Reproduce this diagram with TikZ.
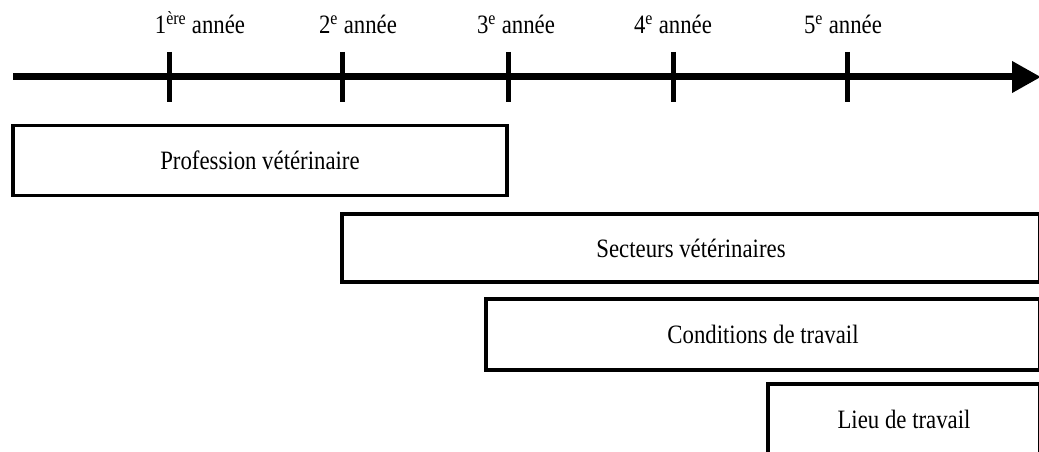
\documentclass[tikz,border=0pt]{standalone}
\usepackage{fontspec}
\setmainfont{Liberation Serif}[FakeStretch=0.86]
\usetikzlibrary{arrows.meta}
\begin{document}
\begin{tikzpicture}[x=1pt,y=1pt,
  phasebox/.style={draw=black, line width=3.5pt, rectangle, inner sep=0pt,
    font=\fontsize{26.5}{31}\selectfont},
  yearlabel/.style={inner sep=0pt, anchor=base, font=\fontsize{26.5}{31}\selectfont},
  tickmark/.style={line width=5pt},
  axisline/.style={line width=7pt, -{Triangle[length=29pt,width=30pt]}}]
\useasboundingbox (0,0) rectangle (1039,452);
\clip (0,0) rectangle (1039,452);
% axis
\coordinate (axstart) at (13,375);
\coordinate (axend) at (1041,375);
\draw[axisline] (axstart) -- (axend);
% ticks
\foreach \n/\x in {t1/169,t2/342,t3/508,t4/673,t5/847}{
  \coordinate (\n top) at (\x,400);
  \coordinate (\n bot) at (\x,350);
  \draw[tickmark] (\n top) -- (\n bot);
}
% year labels
\node[yearlabel] (y1) at (200,418) {1\textsuperscript{ère} année};
\node[yearlabel] (y2) at (358,418) {2\textsuperscript{e} année};
\node[yearlabel] (y3) at (516,418) {3\textsuperscript{e} année};
\node[yearlabel] (y4) at (673,418) {4\textsuperscript{e} année};
\node[yearlabel] (y5) at (843,418) {5\textsuperscript{e} année};
% boxes
\node[phasebox, minimum width=494pt, minimum height=70pt] (prof) at (260,291.5) {Profession vétérinaire};
\node[phasebox, minimum width=698pt, minimum height=68pt] (sect) at (691,204) {Secteurs vétérinaires};
\node[phasebox, minimum width=554pt, minimum height=71pt] (cond) at (763,117.5) {Conditions de travail};
\node[phasebox, minimum width=272pt, minimum height=70pt] (lieu) at (904,33) {Lieu de travail};
\end{tikzpicture}
\end{document}
